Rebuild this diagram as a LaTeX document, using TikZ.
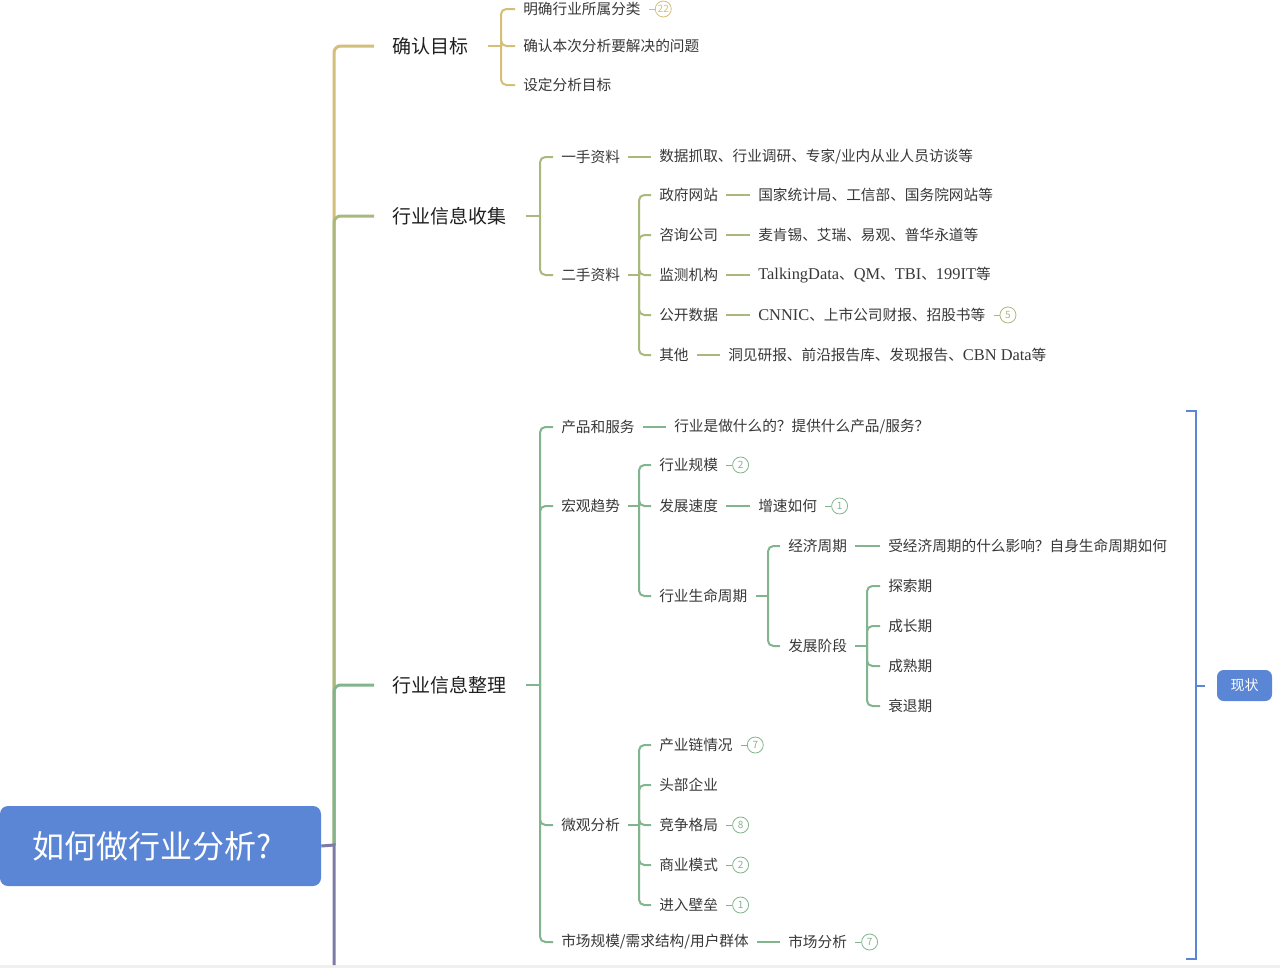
\documentclass[tikz,border=0pt]{standalone}
\usepackage{fontspec}
\setmainfont{Noto Sans CJK SC}
\newfontfamily\lsf{Liberation Serif}
\newcommand\ls[1]{{\lsf\fontsize{12.3}{13}\selectfont #1}}
\definecolor{cgold}{HTML}{D4BF78}
\definecolor{colive}{HTML}{A9B97E}
\definecolor{cgreen}{HTML}{82B48E}
\definecolor{cpurple}{HTML}{7B7BA5}
\definecolor{cblue}{HTML}{5A86D5}
\definecolor{txt}{HTML}{383838}
\begin{document}
\begin{tikzpicture}[x=0.75pt,y=-0.75pt,
  t/.style={anchor=west, inner xsep=6pt, inner ysep=2pt, font=\fontsize{11}{13}\selectfont, text=txt},
  mainb/.style={anchor=west, inner xsep=14pt, inner ysep=3pt, font=\fontsize{14.25}{17}\selectfont, text=black!88},
  badge/.style={circle, draw=#1, text=#1, line width=0.6pt, minimum size=12pt, inner sep=0pt, font=\fontsize{7.5}{8}\selectfont, anchor=west},
  ln/.style={line width=1.5pt, rounded corners=4pt, draw=#1},
  mln/.style={line width=2.25pt, rounded corners=5pt, draw=#1},
  dsh/.style={line width=0.7pt, draw=#1}
]
\useasboundingbox (0,0) rectangle (1280,968);
\fill[white] (0,0) rectangle (1280,968);
\fill[black!6] (0,965) rectangle (1280,968);

% root
\node[fill=cblue, rounded corners=6pt, minimum width=240.75pt, minimum height=60pt, inner sep=0pt,
      text=white, font=\fontsize{24}{28}\selectfont] (root) at (160.5,846) {如何做行业分析?\kern12pt};
\coordinate (j) at (334,845);
\coordinate (bot) at (334,965);

% main branches
\node[mainb] (m1) at (374,46) {确认目标};
\node[mainb] (m2) at (374,216) {行业信息收集};
\node[mainb] (m3) at (374,685) {行业信息整理};

\draw[mln=cgold] (j) |- (m1.west);
\draw[mln=colive] (j) |- (m2.west);
\draw[mln=cgreen] (j) |- (m3.west);
\draw[line width=2.25pt, draw=cpurple] (root.east) -- (j) -- (bot);

% ---- 确认目标
\node[t] (a1) at (515,9) {明确行业所属分类};
\node[t] (a2) at (515,46) {确认本次分析要解决的问题};
\node[t] (a3) at (515,85) {设定分析目标};
\node[badge=cgold] (ba1) at ([xshift=4.5pt]a1.east) {22};
\draw[dsh=cgold] (a1.east) -- (ba1.west);
\draw[ln=cgold] (m1.east) -- (501,46);
\foreach \c in {a1,a2,a3} \draw[ln=cgold] (501,46) |- (\c.west);

% ---- 行业信息收集
\node[t] (b1) at (553,157) {一手资料};
\node[t] (b2) at (553,275) {二手资料};
\draw[ln=colive] (m2.east) -- (540,216);
\foreach \c in {b1,b2} \draw[ln=colive] (540,216) |- (\c.west);
\node[t] (b1d) at (651,157) {数据抓取、行业调研、专家/业内从业人员访谈等};
\draw[ln=colive] (b1.east) -- (b1d.west);

\node[t] (c1) at (651,195) {政府网站};
\node[t] (c2) at (651,235) {咨询公司};
\node[t] (c3) at (651,275) {监测机构};
\node[t] (c4) at (651,315) {公开数据};
\node[t] (c5) at (651,355) {其他};
\draw[ln=colive] (b2.east) -- (639,275);
\foreach \c in {c1,c2,c3,c4,c5} \draw[ln=colive] (639,275) |- (\c.west);
\node[t] (c1d) at (750,195) {国家统计局、工信部、国务院网站等};
\node[t] (c2d) at (750,235) {麦肯锡、艾瑞、易观、普华永道等};
\node[t] (c3d) at (750,275) {\ls{TalkingData}、\ls{QM}、\ls{TBI}、\ls{199IT}等};
\node[t] (c4d) at (750,315) {\ls{CNNIC}、上市公司财报、招股书等};
\node[t] (c5d) at (720,355) {洞见研报、前沿报告库、发现报告、\ls{CBN Data}等};
\foreach \c in {c1,c2,c3,c4,c5} \draw[ln=colive] (\c.east) -- (\c d.west);
\node[badge=colive] (bc4) at ([xshift=4.5pt]c4d.east) {5};
\draw[dsh=colive] (c4d.east) -- (bc4.west);

% ---- 行业信息整理
\node[t] (d1) at (553,427) {产品和服务};
\node[t] (d2) at (553,506) {宏观趋势};
\node[t] (d3) at (553,825) {微观分析};
\node[t] (d4) at (553,942) {市场规模/需求结构/用户群体};
\draw[ln=cgreen] (m3.east) -- (540,685);
\foreach \c in {d1,d2,d3,d4} \draw[ln=cgreen] (540,685) |- (\c.west);
\node[t] (d1d) at (666,427) {行业是做什么的？提供什么产品/服务？};
\draw[ln=cgreen] (d1.east) -- (d1d.west);
\node[t] (d4d) at (780,942) {市场分析};
\draw[ln=cgreen] (d4.east) -- (d4d.west);
\node[badge=cgreen] (bd4) at ([xshift=4.5pt]d4d.east) {7};
\draw[dsh=cgreen] (d4d.east) -- (bd4.west);

% 宏观趋势
\node[t] (e1) at (651,465) {行业规模};
\node[t] (e2) at (651,506) {发展速度};
\node[t] (e3) at (651,596) {行业生命周期};
\draw[ln=cgreen] (d2.east) -- (639,506);
\foreach \c in {e1,e2,e3} \draw[ln=cgreen] (639,506) |- (\c.west);
\node[badge=cgreen] (be1) at ([xshift=4.5pt]e1.east) {2};
\draw[dsh=cgreen] (e1.east) -- (be1.west);
\node[t] (e2d) at (750,506) {增速如何};
\draw[ln=cgreen] (e2.east) -- (e2d.west);
\node[badge=cgreen] (be2) at ([xshift=4.5pt]e2d.east) {1};
\draw[dsh=cgreen] (e2d.east) -- (be2.west);

% 行业生命周期
\node[t] (f1) at (780,546) {经济周期};
\node[t] (f2) at (780,646) {发展阶段};
\draw[ln=cgreen] (e3.east) -- (768,596);
\foreach \c in {f1,f2} \draw[ln=cgreen] (768,596) |- (\c.west);
\node[t] (f1d) at (880,546) {受经济周期的什么影响？自身生命周期如何};
\draw[ln=cgreen] (f1.east) -- (f1d.west);

\node[t] (g1) at (880,586) {探索期};
\node[t] (g2) at (880,626) {成长期};
\node[t] (g3) at (880,666) {成熟期};
\node[t] (g4) at (880,706) {衰退期};
\draw[ln=cgreen] (f2.east) -- (867,646);
\foreach \c in {g1,g2,g3,g4} \draw[ln=cgreen] (867,646) |- (\c.west);

% 微观分析
\node[t] (h1) at (651,745) {产业链情况};
\node[t] (h2) at (651,785) {头部企业};
\node[t] (h3) at (651,825) {竞争格局};
\node[t] (h4) at (651,865) {商业模式};
\node[t] (h5) at (651,905) {进入壁垒};
\draw[ln=cgreen] (d3.east) -- (639,825);
\foreach \c in {h1,h2,h3,h4,h5} \draw[ln=cgreen] (639,825) |- (\c.west);
\node[badge=cgreen] (bh1) at ([xshift=4.5pt]h1.east) {7};
\node[badge=cgreen] (bh3) at ([xshift=4.5pt]h3.east) {8};
\node[badge=cgreen] (bh4) at ([xshift=4.5pt]h4.east) {2};
\node[badge=cgreen] (bh5) at ([xshift=4.5pt]h5.east) {1};
\foreach \c in {1,3,4,5} \draw[dsh=cgreen] (h\c.east) -- (bh\c.west);

% summary bracket
\node[fill=cblue, rounded corners=5pt, minimum width=41.25pt, minimum height=23.25pt, inner sep=0pt,
      text=white, font=\fontsize{10.5}{12}\selectfont] (xz) at (1244.5,685.5) {现状};
\coordinate (bt) at (1186,411);
\coordinate (bb) at (1186,959);
\draw[line width=1.5pt, draw=cblue] (bt) -- (1196,411) -- (1196,959) -- (bb);
\draw[line width=1.5pt, draw=cblue] (1196,685.5) -- ([xshift=-9pt]xz.west);
\end{tikzpicture}
\end{document}
